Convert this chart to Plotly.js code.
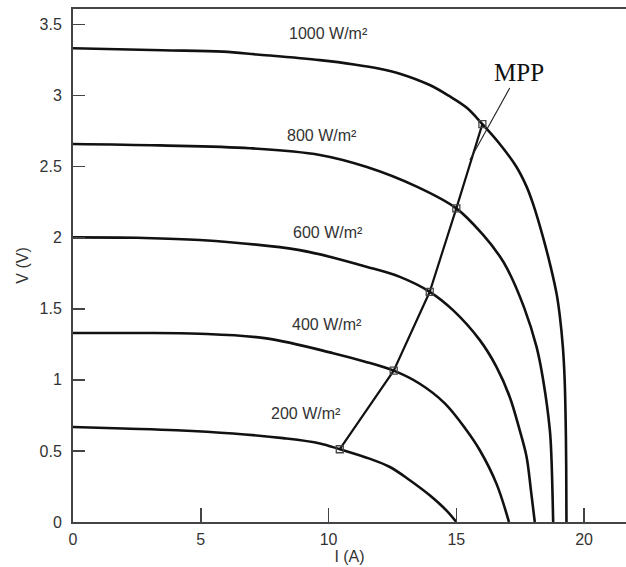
<!DOCTYPE html>
<html>
<head>
<meta charset="utf-8">
<script src="https://cdn.plot.ly/plotly-3.0.1.min.js"></script>
<style>html,body{margin:0;padding:0;background:#fff;}#chart{width:626px;height:567px;}</style>
</head>
<body>
<div id="chart"></div>
<script>
// Current I (A) and voltage V (V), per irradiance level
const irradianceLabels = ['200 W/m²', '400 W/m²', '600 W/m²', '800 W/m²', '1000 W/m²'];

const I200 = [0, 1.96, 4.05, 6.26, 8.22, 9.66, 10.44, 11.6, 12.4, 13.18, 13.96, 14.61, 15.0];
const V200 = [0.669, 0.658, 0.646, 0.623, 0.59, 0.553, 0.512, 0.446, 0.387, 0.294, 0.188, 0.082, 0];

const I400 = [0, 2.5, 4.96, 7.57, 10.18, 11.4, 12.55, 13.57, 14.55, 15.4, 15.92, 16.57, 17.06];
const V400 = [1.33, 1.33, 1.325, 1.292, 1.188, 1.13, 1.065, 0.973, 0.835, 0.646, 0.505, 0.27, 0];

const I600 = [0, 2.5, 4.96, 8.87, 11.48, 12.79, 13.96, 14.87, 15.92, 16.57, 17.09, 17.48, 17.75, 17.92, 18.07];
const V600 = [2.003, 2.0, 1.984, 1.913, 1.796, 1.725, 1.62, 1.491, 1.28, 1.092, 0.88, 0.646, 0.458, 0.223, 0];

const I800 = [0, 3.39, 6.92, 9.66, 11.5, 13.45, 15.0, 16.05, 16.7, 17.0, 17.65, 18.14, 18.4, 18.66, 18.72, 18.79];
const V800 = [2.66, 2.65, 2.63, 2.583, 2.498, 2.36, 2.207, 2.02, 1.87, 1.78, 1.51, 1.232, 0.998, 0.646, 0.463, 0];

const I1000 = [0, 3.5, 5.87, 7.2, 9.66, 11.0, 12.0, 12.79, 13.96, 14.7, 15.41, 16.02, 16.7, 17.35, 17.75, 18.0, 18.4, 18.7, 18.93, 19.05, 19.17, 19.24, 19.28, 19.3, 19.31];
const V1000 = [3.334, 3.32, 3.31, 3.29, 3.25, 3.22, 3.19, 3.155, 3.075, 3.0, 2.915, 2.80, 2.66, 2.50, 2.36, 2.24, 2.0, 1.79, 1.6, 1.45, 1.23, 1.0, 0.7, 0.4, 0];

// Maximum power points
const mppI = [10.44, 12.55, 13.96, 15.0, 16.02];
const mppV = [0.512, 1.065, 1.62, 2.207, 2.80];

// MPP label leader line
const leaderI = [17.09, 15.53];
const leaderV = [3.054, 2.547];

// Label anchor positions (data coordinates)
const labelI = [9.1, 9.95, 9.97, 9.73, 10.01];
const labelV = [0.763, 1.392, 2.035, 2.72, 3.44];
const mppLabel = {text: 'MPP', I: 17.44, V: 3.16};

const xTicks = [0, 5, 10, 15, 20];
const yTicks = [0, 0.5, 1, 1.5, 2, 2.5, 3, 3.5];
const yTickText = ['0', '0.5', '1', '1.5', '2', '2.5', '3', '3.5'];

const curveLine = {color: '#111', width: 2.6};
const curves = [[I200, V200], [I400, V400], [I600, V600], [I800, V800], [I1000, V1000]];
const traces = curves.map((c, k) => ({
  x: c[0], y: c[1], type: 'scatter', mode: 'lines',
  line: Object.assign({shape: 'spline', smoothing: 1.0}, curveLine),
  name: irradianceLabels[k], showlegend: false, hoverinfo: 'skip'
}));
traces.push({
  x: mppI, y: mppV, type: 'scatter', mode: 'lines+markers',
  line: {color: '#111', width: 2.2},
  marker: {symbol: 'square-open', size: 7, color: '#444', line: {width: 1.3}},
  showlegend: false, hoverinfo: 'skip'
});
traces.push({
  x: leaderI, y: leaderV, type: 'scatter', mode: 'lines',
  line: {color: '#222', width: 1.1}, showlegend: false, hoverinfo: 'skip'
});

const font = {family: '"Liberation Sans", Arial, sans-serif', size: 16, color: '#333'};

const annotations = irradianceLabels.map((t, k) => ({
  x: labelI[k], y: labelV[k], xref: 'x', yref: 'y', text: t,
  showarrow: false, font: font, xanchor: 'center', yanchor: 'middle'
}));
annotations.push({
  x: mppLabel.I, y: mppLabel.V, xref: 'x', yref: 'y', text: mppLabel.text,
  showarrow: false, xanchor: 'center', yanchor: 'middle',
  font: {family: '"Liberation Serif", "Times New Roman", serif', size: 25, color: '#111'}
});

const layout = {
  width: 626, height: 567,
  margin: {l: 73, r: 0, t: 9, b: 45, pad: 0},
  paper_bgcolor: '#fff', plot_bgcolor: '#fff',
  font: font,
  showlegend: false,
  xaxis: {
    range: [0, 21.64], tickvals: xTicks, ticks: 'inside', ticklen: 14, tickwidth: 1.5, tickcolor: '#444',
    showline: true, linecolor: '#444', linewidth: 2, mirror: true,
    showgrid: false, zeroline: false, tickfont: font, ticklabelstandoff: 2,
    title: {text: 'I (A)', font: font, standoff: 2}
  },
  yaxis: {
    range: [0, 3.61], tickvals: yTicks, ticktext: yTickText, ticks: 'inside', ticklen: 12, tickwidth: 1.5, tickcolor: '#444',
    showline: true, linecolor: '#444', linewidth: 2, mirror: false,
    showgrid: false, zeroline: false, tickfont: font, ticklabelstandoff: 6,
    title: {text: 'V (V)', font: font, standoff: 7}
  },
  annotations: annotations
};

Plotly.newPlot('chart', traces, layout, {displayModeBar: false, staticPlot: true});
</script>
</body>
</html>
